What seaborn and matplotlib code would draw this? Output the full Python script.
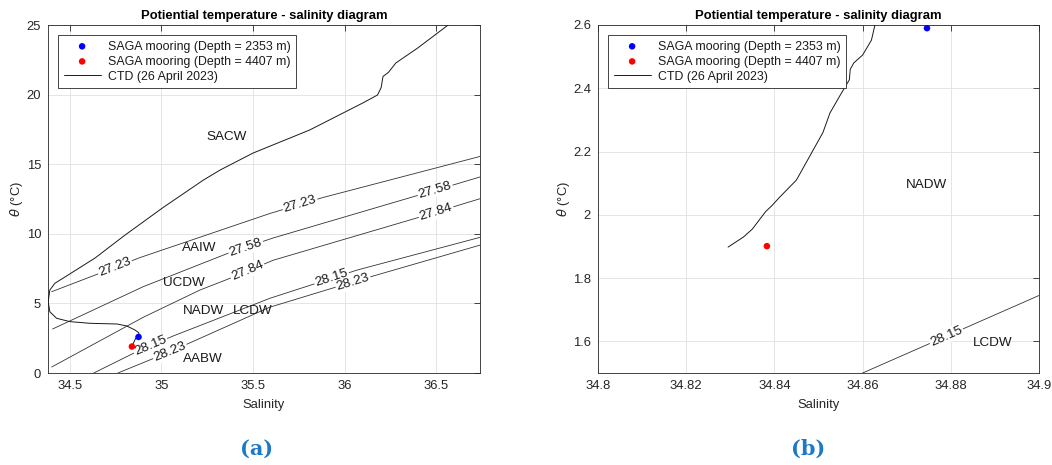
import numpy as np
import matplotlib
matplotlib.use("Agg")
import matplotlib.pyplot as plt
import seaborn as sns

# ---------------- data ----------------
ctd_sal = [34.8295, 34.8330, 34.8350, 34.8380, 34.8395, 34.8410, 34.8450, 34.8470,
           34.8488, 34.8510, 34.8526, 34.8550, 34.8570, 34.8572, 34.8580, 34.8600,
           34.8620, 34.8628, 34.866, 34.879, 34.875, 34.855, 34.81, 34.757, 34.61,
           34.50, 34.427, 34.39, 34.381, 34.39, 34.418, 34.473, 34.637, 34.80, 35.01,
           35.23, 35.32, 35.50, 35.81, 36.10, 36.18, 36.20, 36.21, 36.24, 36.28,
           36.40, 36.566]
ctd_theta = [1.898, 1.930, 1.955, 2.010, 2.030, 2.053, 2.110, 2.160, 2.205, 2.260,
             2.322, 2.380, 2.427, 2.460, 2.480, 2.505, 2.552, 2.600, 2.65, 2.73, 2.90,
             3.09, 3.38, 3.52, 3.57, 3.69, 3.93, 4.4, 5.12, 5.96, 6.45, 6.9, 8.26, 9.9,
             11.9, 13.87, 14.58, 15.8, 17.46, 19.4, 19.97, 20.5, 21.3, 21.6, 22.27,
             23.35, 25.0]

moor_2353_sal = [34.8746]
moor_2353_theta = [2.59]
moor_4407_sal = [34.8383]
moor_4407_theta = [1.901]

# isopycnals (sigma levels)
iso_levels = ["27.23", "27.58", "27.84", "28.15", "28.23"]
iso_2723_sal = [34.40, 34.64, 34.88, 35.59, 35.88, 36.77]
iso_2723_theta = [5.84, 7.05, 8.28, 11.45, 12.60, 15.66]
iso_2758_sal = [34.405, 34.90, 35.363, 35.61, 36.385, 36.63, 36.77]
iso_2758_theta = [3.16, 6.20, 8.60, 9.70, 12.70, 13.65, 14.20]
iso_2784_sal = [34.40, 34.90, 35.21, 35.374, 35.61, 36.385, 36.77]
iso_2784_theta = [0.43, 4.00, 5.96, 6.80, 8.10, 11.10, 12.64]
iso_2815_sal = [34.63, 34.86, 34.90, 35.064, 35.593, 36.07, 36.77]
iso_2815_theta = [0.0, 1.50, 1.745, 2.66, 5.37, 7.40, 9.85]
iso_2823_sal = [34.762, 35.05, 35.19, 35.59, 36.06, 36.77]
iso_2823_theta = [0.0, 1.55, 2.37, 4.72, 6.60, 9.30]

# contour-label salinities per panel
lab_left = {"27.23": [34.746, 35.757], "27.58": [35.46, 36.495],
            "27.84": [35.47, 36.50], "28.15": [34.94, 35.93],
            "28.23": [35.046, 36.046]}
lab_right = {"28.15": [34.879]}

# water mass names
wm_left_names = ["SACW", "AAIW", "UCDW", "NADW", "LCDW", "AABW"]
wm_left_sal = [35.358, 35.205, 35.123, 35.227, 35.50, 35.227]
wm_left_theta = [16.95, 8.98, 6.47, 4.45, 4.45, 1.0]
wm_right_names = ["NADW", "LCDW"]
wm_right_sal = [34.8746, 34.8896]
wm_right_theta = [2.094, 1.595]

# ---------------- style ----------------
sns.set_style("white")
plt.rcParams["font.family"] = ["Liberation Sans", "DejaVu Sans"]
plt.rcParams["mathtext.fontset"] = "dejavusans"
TXT = "#262626"

fig = plt.figure(figsize=(10.52, 4.65), dpi=100)
ax1 = fig.add_axes([48 / 1052, 92 / 465, 432 / 1052, 348 / 465])
ax2 = fig.add_axes([598 / 1052, 92 / 465, 441 / 1052, 348 / 465])

isos = {"27.23": (iso_2723_sal, iso_2723_theta), "27.58": (iso_2758_sal, iso_2758_theta),
        "27.84": (iso_2784_sal, iso_2784_theta), "28.15": (iso_2815_sal, iso_2815_theta),
        "28.23": (iso_2823_sal, iso_2823_theta)}


def draw(ax, labs, names, nsal, ntheta, xlim, ylim, xticks, yticks):
    ax.set_xlim(*xlim)
    ax.set_ylim(*ylim)
    for lev in iso_levels:
        s, t = isos[lev]
        sns.lineplot(x=s, y=t, ax=ax, sort=False, estimator=None, color="#333333",
                     lw=0.6, zorder=2)
    for lev, slist in labs.items():
        s, t = np.array(isos[lev][0]), np.array(isos[lev][1])
        for sl in slist:
            tl = np.interp(sl, s, t)
            i = np.clip(np.searchsorted(s, sl) - 1, 0, len(s) - 2)
            ang = np.degrees(np.arctan2(t[i + 1] - t[i], s[i + 1] - s[i]))
            ax.text(sl, tl, lev, rotation=ang, transform_rotates_text=True,
                    rotation_mode="anchor", ha="center", va="center", fontsize=9.7,
                    color="none", bbox=dict(fc="white", ec="none", pad=0.8), zorder=3)
            ax.text(sl, tl, lev, rotation=ang, transform_rotates_text=True,
                    rotation_mode="anchor", ha="center", va="center", fontsize=9.7,
                    color="#1a1a1a", zorder=4)
    sns.lineplot(x=ctd_sal, y=ctd_theta, ax=ax, sort=False, estimator=None,
                 color="#1a1a1a", lw=0.7, zorder=5, label="CTD (26 April 2023)")
    sns.scatterplot(x=moor_2353_sal, y=moor_2353_theta, ax=ax, color="#0000ff", s=22,
                    edgecolor="none", zorder=6, label="SAGA mooring (Depth = 2353 m)")
    sns.scatterplot(x=moor_4407_sal, y=moor_4407_theta, ax=ax, color="#ff0000", s=22,
                    edgecolor="none", zorder=6, label="SAGA mooring (Depth = 4407 m)")
    for n, x, y in zip(names, nsal, ntheta):
        ax.text(x, y, n, ha="center", va="center", fontsize=9.7, color="#1a1a1a", zorder=4)
    ax.set_xticks(xticks)
    ax.set_yticks(yticks)
    ax.set_xticklabels([f"{v:g}" for v in xticks])
    ax.set_yticklabels([f"{v:g}" for v in yticks])
    ax.grid(True, color="#e0e0e0", lw=0.6)
    ax.set_axisbelow(True)
    ax.tick_params(direction="in", top=True, right=True, length=4, width=0.6,
                   labelsize=9.4, colors=TXT, pad=5)
    for sp in ax.spines.values():
        sp.set_color(TXT)
        sp.set_linewidth(0.6)
    ax.set_xlabel("Salinity", fontsize=9.4, color=TXT, labelpad=5)
    ax.set_ylabel(r"$\theta$ (°C)", fontsize=9.4, color=TXT, labelpad=1)
    ax.set_title("Potiential temperature - salinity diagram", fontsize=9.4,
                 fontweight="bold", color="black", pad=4)
    h, l = ax.get_legend_handles_labels()
    order = [l.index("SAGA mooring (Depth = 2353 m)"),
             l.index("SAGA mooring (Depth = 4407 m)"), l.index("CTD (26 April 2023)")]
    leg = ax.legend([h[k] for k in order], [l[k] for k in order], loc="upper left",
                    bbox_to_anchor=(10 / ax.bbox.width, 1 - 10 / ax.bbox.height),
                    borderaxespad=0, frameon=True, fancybox=False, shadow=False,
                    fontsize=8.9, handlelength=3.0, labelspacing=0.25, borderpad=0.45,
                    handletextpad=0.6, framealpha=1)
    leg.get_frame().set_edgecolor(TXT)
    leg.get_frame().set_linewidth(0.6)
    for t in leg.get_texts():
        t.set_color("#1a1a1a")


draw(ax1, lab_left, wm_left_names, wm_left_sal, wm_left_theta,
     (34.38, 36.74), (0, 25), [34.5, 35, 35.5, 36, 36.5], [0, 5, 10, 15, 20, 25])
draw(ax2, lab_right, wm_right_names, wm_right_sal, wm_right_theta,
     (34.8, 34.9), (1.5, 2.6), [34.8, 34.82, 34.84, 34.86, 34.88, 34.9],
     [1.6, 1.8, 2.0, 2.2, 2.4, 2.6])

fig.text(257 / 1052, 1 - 449 / 465, "(a)", ha="center", va="center", fontsize=15,
         fontweight="bold", family="DejaVu Serif", color="#1f78c4")
fig.text(808 / 1052, 1 - 449 / 465, "(b)", ha="center", va="center", fontsize=15,
         fontweight="bold", family="DejaVu Serif", color="#1f78c4")

fig.savefig("out.png", dpi=100)
